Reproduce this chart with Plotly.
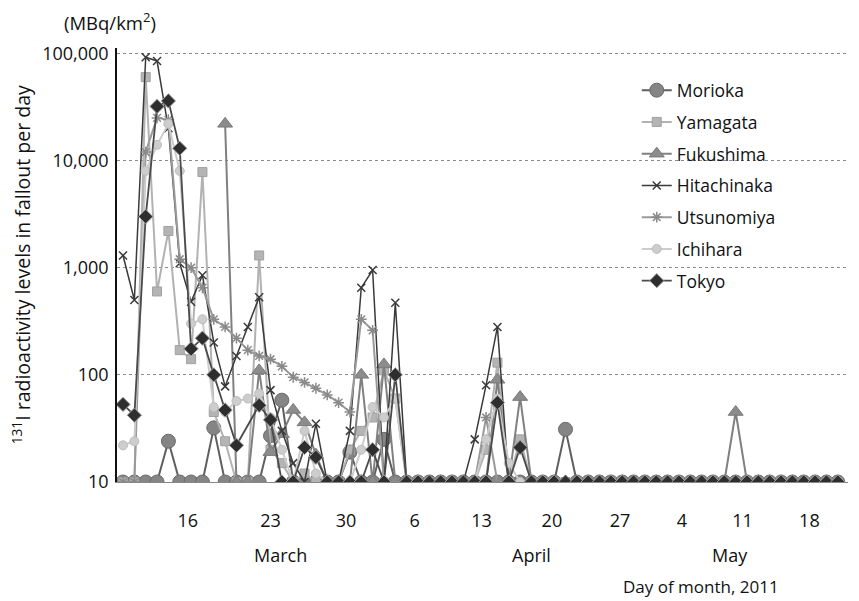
import plotly.graph_objects as go

# ---------------- data ----------------
day_index = list(range(64))

tick_index = [5.7, 13.0, 19.65, 25.7, 31.6, 37.8, 43.8, 49.25, 54.6, 60.5]
tick_labels = ["16", "23", "30", "6", "13", "20", "27", "4", "11", "18"]

month_index = [13.9, 36.0, 53.5]
month_labels = ["March", "April", "May"]

y_ticks = [10, 100, 1000, 10000, 100000]
y_tick_labels = ["10", "100", "1,000", "10,000", "100,000"]

morioka = [10, 10, 10, 10, 24, 10, 10, 10, 32, 10,
           10, 10, 10, 27, 58, 10, 10, 10, 10, 10,
           19, 10, 10, 25, 10, 10, 10, 10, 10, 10,
           10, 10, 10, 10, 10, 10, 10, 10, 10, 31,
           10, 10, 10, 10, 10, 10, 10, 10, 10, 10,
           10, 10, 10, 10, 10, 10, 10, 10, 10, 10,
           10, 10, 10, 10]

yamagata = [10, 10, 60000, 600, 2200, 170, 140, 7800, 45, 24,
            10, 10, 1300, 20, 15, 10, 12, 10, 10, 10,
            20, 30, 40, 110, 60, 10, 10, 10, 10, 10,
            10, 10, 20, 130, 10, 25, 10, 10, 10, 10,
            10, 10, 10, 10, 10, 10, 10, 10, 10, 10,
            10, 10, 10, 10, 10, 10, 10, 10, 10, 10,
            10, 10, 10, 10]

fukushima = [None, None, None, None, None, None, None, None, None, 22000,
             10, 10, 110, 19, 28, 47, 36, 18, 10, 10,
             10, 100, 10, 125, 10, 10, 10, 10, 10, 10,
             10, 10, 10, 90, 10, 62, 10, 10, 10, 10,
             10, 10, 10, 10, 10, 10, 10, 10, 10, 10,
             10, 10, 10, 10, 45, 10, 10, 10, 10, 10,
             10, 10, 10, 10]

hitachinaka = [1300, 500, 92000, 85000, 20000, 1100, 480, 850, 200, 78,
               150, 280, 530, 72, 30, 15, 10, 35, 10, 10,
               30, 650, 950, 10, 470, 10, 10, 10, 10, 10,
               10, 25, 80, 280, 10, 10, 10, 10, 10, 10,
               10, 10, 10, 10, 10, 10, 10, 10, 10, 10,
               10, 10, 10, 10, 10, 10, 10, 10, 10, 10,
               10, 10, 10, 10]

utsunomiya = [10, 10, 12000, 25000, 24000, 1200, 1000, 650, 330, 280,
              220, 170, 150, 140, 120, 95, 85, 75, 65, 55,
              45, 330, 260, 10, 10, 10, 10, 10, 10, 10,
              10, 10, 40, 10, 10, 10, 10, 10, 10, 10,
              10, 10, 10, 10, 10, 10, 10, 10, 10, 10,
              10, 10, 10, 10, 10, 10, 10, 10, 10, 10,
              10, 10, 10, 10]

ichihara = [22, 24, 8000, 14000, 22000, 8000, 300, 330, 50, 45,
            57, 60, 67, 40, 20, 10, 30, 12, 10, 10,
            10, 20, 50, 40, 60, 10, 10, 10, 10, 10,
            10, 10, 25, 60, 15, 10, 10, 10, 10, 10,
            10, 10, 10, 10, 10, 10, 10, 10, 10, 10,
            10, 10, 10, 10, 10, 10, 10, 10, 10, 10,
            10, 10, 10, 10]

tokyo = [53, 42, 3000, 32000, 36000, 13000, 175, 220, 100, 47,
         22, None, 52, 38, 10, 10, 21, 17, 10, 10,
         10, 10, 20, 10, 100, 10, 10, 10, 10, 10,
         10, 10, 10, 55, 10, 21, 10, 10, 10, 10,
         10, 10, 10, 10, 10, 10, 10, 10, 10, 10,
         10, 10, 10, 10, 10, 10, 10, 10, 10, 10,
         10, 10, 10, 10]

series_names = ["Morioka", "Yamagata", "Fukushima", "Hitachinaka",
                "Utsunomiya", "Ichihara", "Tokyo"]
series_values = [morioka, yamagata, fukushima, hitachinaka,
                 utsunomiya, ichihara, tokyo]

# ---------------- styles ----------------
styles = [
    dict(line=dict(color="#5f5f5f", width=2),
         marker=dict(symbol="circle", size=14, color="#858585",
                     line=dict(color="#6a6a6a", width=1))),
    dict(line=dict(color="#b2b2b2", width=2),
         marker=dict(symbol="square", size=9, color="#b4b4b4",
                     line=dict(color="#a0a0a0", width=1))),
    dict(line=dict(color="#808080", width=2),
         marker=dict(symbol="triangle-up", size=13, color="#8c8c8c",
                     line=dict(color="#7a7a7a", width=1))),
    dict(line=dict(color="#3a3a3a", width=1.5),
         marker=dict(symbol="x-thin-open", size=8, color="#3a3a3a",
                     line=dict(color="#3a3a3a", width=1.5))),
    dict(line=dict(color="#9a9a9a", width=2),
         marker=dict(symbol="asterisk-open", size=9, color="#8a8a8a",
                     line=dict(color="#8a8a8a", width=1.5))),
    dict(line=dict(color="#cccccc", width=2),
         marker=dict(symbol="circle", size=9, color="#cdcdcd",
                     line=dict(color="#bdbdbd", width=1))),
    dict(line=dict(color="#4a4a4a", width=1.8),
         marker=dict(symbol="diamond", size=11, color="#2e2e2e",
                     line=dict(color="#a0a0a0", width=1))),
]

FONT = "Open Sans"
TXT = "#111111"

fig = go.Figure()
for name, vals, st in zip(series_names, series_values, styles):
    fig.add_trace(go.Scatter(
        x=day_index, y=vals, name=name, mode="lines+markers",
        line=st["line"], marker=st["marker"], connectgaps=True,
        legendgroup=name,
    ))

# page body has an 8px margin, so the figure is sized to fit inside the window
fig.update_layout(
    width=851, height=593,
    margin=dict(l=109, r=11, t=40, b=119),
    paper_bgcolor="white", plot_bgcolor="white",
    font=dict(family=FONT, size=17, color=TXT),
    showlegend=True,
    legend=dict(x=0.711, y=0.944, xanchor="left", yanchor="top",
                bgcolor="rgba(0,0,0,0)", tracegroupgap=6,
                font=dict(family=FONT, size=17.5, color=TXT),
                itemwidth=30),
    xaxis=dict(range=[-0.53, 63.9], tickmode="array", tickvals=tick_index,
               ticktext=tick_labels, showgrid=False, zeroline=False,
               showline=True, linecolor="#888888", linewidth=1,
               ticks="", ticklabelstandoff=22,
               tickfont=dict(size=18, family=FONT, color=TXT)),
    yaxis=dict(type="log", range=[1, 5.05], tickmode="array",
               tickvals=y_ticks, ticktext=y_tick_labels,
               showgrid=True, gridcolor="#8a8a8a", gridwidth=1,
               griddash="dot", zeroline=False, showline=True,
               linecolor="#111111", linewidth=1.5, ticks="",
               ticklabelstandoff=3,
               tickfont=dict(size=18, family=FONT, color=TXT)),
)

annotations = []
for pos, lab in zip(month_index, month_labels):
    annotations.append(dict(x=pos, y=-0.168, xref="x", yref="paper",
                            text=lab, showarrow=False, xanchor="center",
                            yanchor="middle",
                            font=dict(size=18, family=FONT, color=TXT)))
annotations.append(dict(x=50.9, y=-0.241, xref="x", yref="paper",
                        text="Day of month, 2011", showarrow=False,
                        xanchor="center", yanchor="middle",
                        font=dict(size=17, family=FONT, color=TXT)))
annotations.append(dict(x=-0.01, y=1.062, xref="paper", yref="paper",
                        text="(MBq/km<sup>2</sup>)", showarrow=False,
                        xanchor="center", yanchor="middle",
                        font=dict(size=18.5, family=FONT, color=TXT)))
annotations.append(dict(x=-0.131, y=0.5, xref="paper", yref="paper",
                        text="<sup>131</sup>I radioactivity levels in fallout per day",
                        textangle=-90, showarrow=False, xanchor="center",
                        yanchor="middle",
                        font=dict(size=19.5, family=FONT, color=TXT)))
fig.update_layout(annotations=annotations)

fig.write_html("out.html")
